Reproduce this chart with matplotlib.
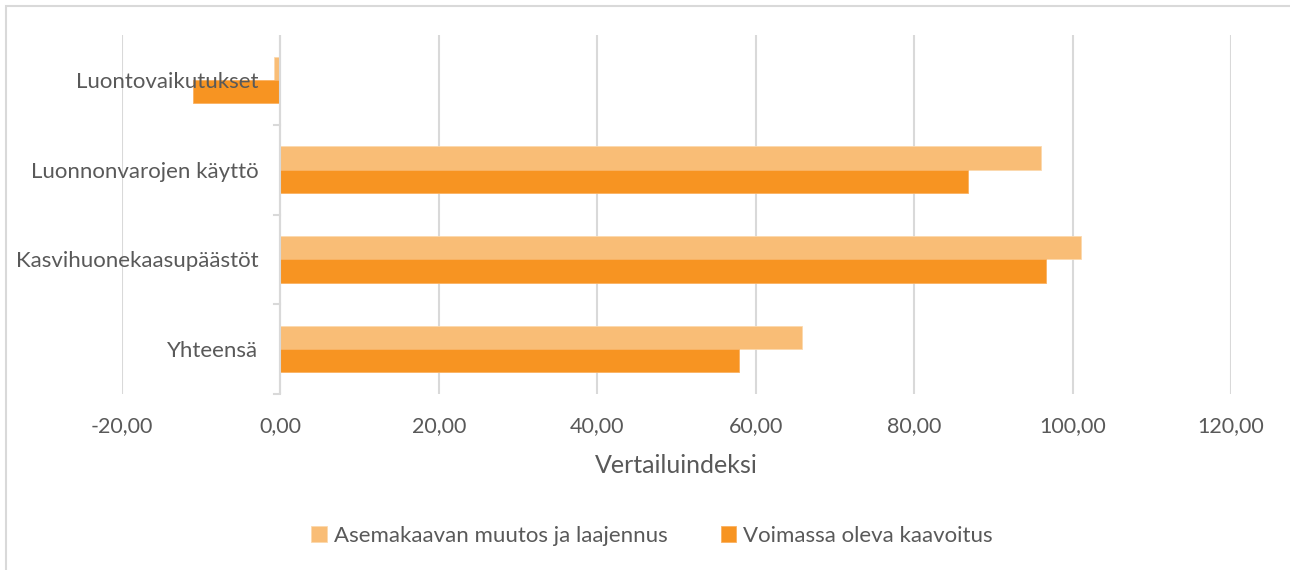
import matplotlib
matplotlib.use("Agg")
import matplotlib.pyplot as plt
import numpy as np
from matplotlib.patches import Rectangle

categories = ["Luontovaikutukset", "Luonnonvarojen käyttö", "Kasvihuonekaasupäästöt", "Yhteensä"]
series_names = ["Asemakaavan muutos ja laajennus", "Voimassa oleva kaavoitus"]
asemakaava = [-0.8, 96.0, 101.1, 65.9]
voimassa = [-11.0, 86.8, 96.7, 57.9]
xticks = [-20, 0, 20, 40, 60, 80, 100, 120]
xlabel = "Vertailuindeksi"

light = "#F9BD76"
dark = "#F79422"
textc = "#595959"
gridc = "#D9D9D9"

plt.rcParams['font.family'] = ['Lato', 'DejaVu Sans']

W, H = 1290, 570
fig = plt.figure(figsize=(W / 100, H / 100), dpi=100)

# outer border
fig.patches.append(Rectangle((6 / W, -0.1), 1.2, 1 - 6 / H + 0.1, transform=fig.transFigure,
                             fill=False, edgecolor=gridc, linewidth=1.5))

left, right, top, bottom = 122, 1231, 35, 394
ax = fig.add_axes([left / W, 1 - bottom / H, (right - left) / W, (bottom - top) / H])

n = len(categories)
y = np.arange(n)
bh = 0.26
ax.barh(y - bh / 2, asemakaava, height=bh, color=light, edgecolor="#FCD9AE", linewidth=0.6,
        label=series_names[0], zorder=3)
ax.barh(y + bh / 2, voimassa, height=bh, color=dark, edgecolor="#FAB262", linewidth=0.6,
        label=series_names[1], zorder=3)

ax.set_xlim(xticks[0], xticks[-1])
ax.set_ylim(n - 0.5, -0.5)
ax.set_xticks(xticks)
ax.set_xticklabels([f"{v:.2f}".replace(".", ",") for v in xticks], color=textc, fontsize=15.5)
ax.tick_params(axis="x", length=0, pad=16)
ax.set_yticks([])
for s in ax.spines.values():
    s.set_visible(False)
ax.grid(axis="x", color=gridc, linewidth=1.5, zorder=0)
ax.set_axisbelow(True)

# category axis line at 0 with ticks at boundaries
ax.axvline(0, color=gridc, linewidth=1.5, zorder=4)
for b in np.arange(-0.5, n, 1.0):
    if b > -0.5:
        ax.plot([-0.8, 0], [b, b], color=gridc, linewidth=1.5, zorder=4, clip_on=False)
for i, c in enumerate(categories):
    ax.annotate(c, xy=(0, i), xycoords="data", xytext=(-16, -1.5),
                textcoords="offset points", ha="right", va="center", color=textc, fontsize=16)

ax.set_xlabel(xlabel, color=textc, fontsize=18, labelpad=13)

leg = fig.legend(loc="center", bbox_to_anchor=(652 / W, 1 - 536 / H), ncol=2, frameon=False,
                 fontsize=16, handlelength=0.7, handleheight=0.7, columnspacing=2.4,
                 handletextpad=0.3)
for t in leg.get_texts():
    t.set_color(textc)

fig.savefig("out.png", dpi=100)
